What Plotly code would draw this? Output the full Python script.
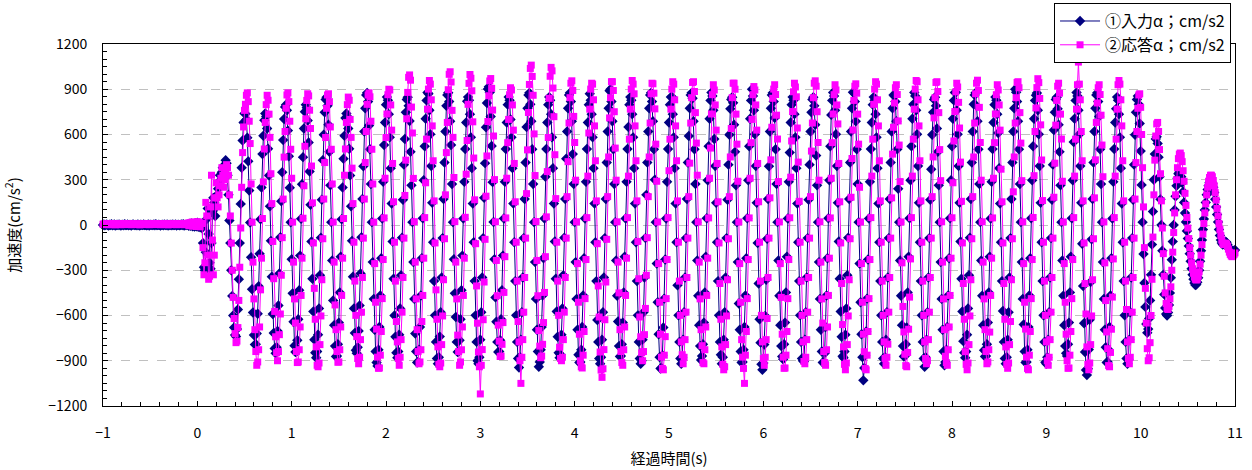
import plotly.graph_objects as go

# ---------------- data (sampled every 0.01 s from -1.00 s to 11.00 s) ----------------
T_START = -1.0
DT = 0.01

# -1.00 .. 0.04 s : before excitation
input_flat = [
    0, 3, -2, 1, 4, -1, -3, 2, 0, 5, -2, 1, 3, -4, 0,
    2, -1, 4, 0, -3, 1, 2, -2, 5, 0, -1, 3, -2, 1, 0,
    -3, 2, 4, -1, 0, 1, -2, 3, 0, -4, 2, 1, -1, 3, 0,
    1, -2, 0, 4, -3, 2, 1, -1, 0, 3, -2, 5, 0, -1, 2,
    0, -3, 1, 2, -2, 4, 0, -1, 3, -4, 1, 0, 2, -2, 3,
    -1, 0, 4, -3, 1, 2, -2, 0, 3, -1, 5, -3, 0, 2, -1,
    4, -6, 8, -5, 10, -8, 6, -10, 12, -9, 15, -12, 10, -15, 8]
response_flat = [
    5, 8, 3, 6, 9, 4, 2, 7, 5, 10, 3, 6, 8, 1, 5,
    7, 4, 9, 5, 2, 6, 7, 3, 10, 5, 4, 8, 3, 6, 5,
    2, 7, 9, 4, 5, 6, 3, 8, 5, 1, 7, 6, 4, 8, 5,
    6, 3, 5, 9, 2, 7, 6, 4, 5, 8, 3, 10, 5, 4, 7,
    5, 2, 6, 7, 3, 9, 5, 4, 8, 1, 6, 5, 7, 3, 8,
    4, 5, 9, 2, 6, 7, 3, 5, 8, 4, 10, 2, 5, 7, 4,
    12, -5, 15, 0, 18, -8, 20, -4, 15, -10, 22, -6, 18, -12, 10]

# 0.05 .. 0.50 s : onset
input_onset = [-20, -120, -280, -300, -180, 40, 110, -60, -250, -290,
               -120, 90, 180, 150, 60, 120, 200, 240, 280, 330,
               300, 350, 380, 360, 400, 430, 410, 330, 200, 30,
               -120, -300, -470, -600, -680, -730, -740, -690, -560, -360,
               -120, 140, 380, 560, 680, 740]
response_onset = [10, -150, -330, -250, 150, 60, -200, -360, -340, 120,
                  330, -100, -330, -200, 180, 280, 180, 120, 200, 260,
                  310, 380, 330, 250, 300, 360, 400, 380, 330, 200,
                  60, -120, -300, -480, -620, -720, -780, -770, -680, -500,
                  -280, -20, 250, 480, 650, 760]

# steady excitation, input (2 cycles per row, from 0.51 s)
input_cycles = [
    [737, 700, 579, 422, 229, 16, -214, -426, -580, -730, -793, -790, -719, -588, -406, -191, 38, 249, 470, 592, 695, 739, 720, 640, 506, 329, 124, -105, -343, -590, -716, -818, -850, -810, -702, -534, -321, -81, 157, 350, 563, 703, 783],
    [797, 760, 626, 456, 247, 18, -227, -453, -641, -800, -842, -839, -764, -625, -432, -203, 41, 270, 450, 640, 751, 798, 778, 692, 547, 355, 134, -109, -356, -573, -760, -847, -880, -839, -727, -553, -333, -84, 167, 430, 598, 747, 832],
    [847, 790, 665, 485, 263, 19, -235, -500, -664, -803, -872, -869, -791, -647, -447, -210, 38, 249, 439, 592, 710, 739, 720, 640, 506, 329, 124, -105, -343, -553, -716, -830, -850, -810, -702, -534, -321, -81, 172, 390, 620, 774, 862],
    [876, 818, 660, 502, 272, 19, -246, -490, -694, -839, -912, -935, -827, -676, -467, -220, 43, 286, 530, 680, 798, 848, 827, 735, 581, 377, 142, -109, -356, -600, -741, -847, -880, -839, -727, -553, -333, -84, 167, 400, 570, 747, 832],
    [847, 790, 690, 485, 263, 19, -246, -490, -720, -839, -912, -908, -827, -676, -467, -220, 45, 297, 522, 704, 826, 878, 870, 761, 602, 391, 147, -114, -372, -599, -775, -885, -920, -877, -740, -578, -348, -87, 172, 414, 620, 790, 862],
    [876, 818, 688, 530, 272, 19, -227, -453, -610, -775, -842, -839, -764, -625, -432, -203, 43, 286, 504, 680, 820, 848, 827, 735, 581, 377, 142, -114, -372, -599, -775, -900, -920, -877, -760, -578, -348, -87, 180, 410, 648, 809, 901],
    [916, 880, 719, 524, 284, 20, -227, -480, -641, -775, -842, -839, -764, -625, -432, -203, 43, 286, 504, 680, 798, 848, 827, 700, 581, 377, 142, -114, -372, -599, -775, -885, -945, -877, -760, -578, -348, -87, 172, 414, 650, 774, 862],
    [876, 800, 688, 502, 272, 19, -246, -490, -694, -839, -940, -908, -827, -676, -467, -220, 43, 320, 504, 680, 798, 848, 827, 735, 581, 377, 142, -109, -356, -573, -741, -847, -880, -860, -727, -553, -333, -84, 172, 440, 620, 774, 862],
    [876, 818, 688, 470, 272, 19, -246, -490, -694, -860, -912, -908, -827, -676, -467, -220, 43, 286, 504, 680, 798, 870, 827, 735, 581, 377, 142, -114, -372, -630, -775, -885, -920, -877, -760, -578, -348, -87, 172, 414, 620, 774, 890],
    [900, 818, 688, 502, 272, 19, -235, -469, -640, -803, -872, -869, -791, -647, -447, -210, 43, 286, 504, 650, 798, 848, 827, 735, 581, 377, 142, -114, -372, -599, -775, -885, -920, -900, -760, -578, -348, -87, 200, 414, 620, 774, 862],
    [876, 818, 688, 502, 300, 19, -256, -512, -724, -876, -951, -948, -863, -680, -488, -229, 43, 286, 504, 680, 798, 848, 850, 735, 581, 377, 142, -114, -400, -599, -775, -885, -920, -877, -760, -578, -348, -87, 172, 414, 590, 774, 862],
    [876, 840, 688, 502, 272, 19, -235, -469, -664, -803, -895, -869, -791, -647, -447, -210, 45, 297, 522, 704, 826, 878, 856, 761, 570, 391, 147, -114, -372, -599, -775, -860, -920, -877, -760, -578, -348, -87, 167, 400, 598, 770, 832],
    [847, 810, 665, 485, 263, 19, -246, -520, -694, -839, -912, -908, -827, -676, -467, -220, 45, 297, 522, 704, 826, 900, 856, 761, 602, 391, 147, -119, -388, -625, -780, -924, -960, -915, -793, -603, -363, -91, 172, 390, 620, 774, 862],
    [876, 818, 710, 502, 272, 19, -235, -469, -664, -803, -872, -890, -791, -647, -447, -210, 43, 286, 480, 680, 798, 848, 827, 735, 581, 377, 142, -114, -372, -599, -775, -885, -900, -905, -760, -578, -348, -87, 167, 400, 620, 747, 832],
    [847, 790, 665, 460, 263, 19, -246, -490, -694, -839, -912, -908, -850, -676, -467, -220, 45, 297, 522, 730, 826, 878, 856, 761, 602, 391, 147, -109, -356, -573, -741, -870, -880, -839, -727, -553, -333, -84, 172, 414, 620, 774, 880],
    [876, 818, 688, 502, 272, 19, -256, -512, -724, -876, -1030, -948, -863, -706, -488, -229, 43, 286, 504, 680, 798, 848, 827, 735, 581, 377, 142, -114, -372, -599, -775, -885, -920, -877, -760, -578, -348, -87, 172, 414, 620, 774, 862],
    [855, 818, 688, 502, 240, 19, -235, -469, -664, -803, -872, -869, -791, -680, -447, -210, 45, 297, 522, 704, 800, 878, 856, 761, 602, 391, 147, -114, -372, -599, -775, -885, -940, -877, -760, -578, -348, -87, 167, 370, 598, 747, 832],
    [847, 790, 640, 485, 263, 19, -246, -490, -694, -839, -930, -908, -827, -676, -467, -220, 45, 297, 522, 704, 826, 878, 880, 761, 602, 391, 147, -109, -356, -573, -770, -847, -880, -839, -727, -553, -333, -84, 172, 414, 620, 800, 862],
    [876, 790, 688, 502, 272, 19, -235, -469, -664, -830, -872, -869, -791, -647, -447, -210, 43, 286, 504, 680, 798, 848, 827, 735, 610, 377, 142, -114, -372, -570, -775, -885, -920, -877, -760, -578, -348, -87, 172, 414, 620, 774, 900],
    [880, 818, 688, 502, 272, 19, -246, -490, -660, -839, -912, -908, -827, -676, -467, -220, 45, 297, 522, 704, 826, 860, 875, 761, 602, 391, 147, -114, -372, -599, -775, -910, -920, -877, -760, -578, -348, -87, 167, 400, 630, 747, 832],
    [847, 770, 665, 485, 263, 19, -235, -469, -664, -803, -850, -869, -791, -647, -447, -210, 45, 297, 550, 704, 826, 878, 856, 761, 602, 391, 147, -124, -404, -651, -842, -962, -995, -953, -826, -628, -378, -95, 172, 414, 620, 774, 862],
    [876, 818, 720, 502, 272, 19, -246, -490, -694, -810, -912, -908, -827, -676, -467, -220, 43, 286, 504, 680, 770, 848, 827, 735, 581, 377, 142, -114, -372, -599, -775, -885, -920, -890, -760, -578, -348, -87, 167, 400, 598, 747, 832],
]
input_cycle_end = [856, 800, 673, 490, 266, 19, -192, -384, -543, -657, -714]

# steady excitation, response (lags input by ~0.02 s)
response_cycle_start = [800, 860]
response_cycles = [
    [876, 818, 688, 540, 272, 19, -246, -490, -694, -839, -930, -908, -827, -676, -430, -220, 43, 286, 504, 680, 798, 860, 827, 735, 581, 340, 142, -109, -356, -573, -741, -847, -900, -839, -727, -590, -333, -84, 172, 450, 620, 774, 862],
    [876, 818, 688, 502, 310, 19, -246, -490, -650, -839, -912, -908, -827, -676, -467, -220, 45, 260, 522, 704, 826, 870, 856, 761, 640, 391, 147, -119, -420, -625, -808, -930, -940, -915, -793, -603, -363, -91, 172, 414, 580, 774, 862],
    [870, 818, 650, 502, 272, 19, -246, -530, -694, -839, -910, -908, -827, -676, -467, -220, 43, 330, 504, 680, 798, 848, 827, 700, 581, 377, 142, -114, -372, -599, -740, -885, -920, -877, -760, -578, -348, -87, 172, 414, 620, 800, 862],
    [876, 850, 688, 502, 272, 19, -256, -512, -690, -876, -950, -948, -863, -706, -488, -229, 47, 310, 580, 736, 864, 900, 895, 796, 629, 408, 154, -114, -372, -640, -775, -885, -930, -877, -760, -578, -348, -87, 196, 430, 704, 879, 979],
    [995, 960, 782, 610, 309, 22, -246, -490, -694, -839, -920, -908, -827, -640, -467, -220, 49, 280, 569, 768, 901, 958, 934, 830, 657, 426, 160, -119, -430, -625, -808, -924, -940, -915, -793, -603, -363, -91, 200, 480, 680, 897, 999],
    [1016, 948, 760, 581, 315, 22, -246, -490, -730, -839, -930, -908, -827, -676, -467, -220, 51, 337, 560, 800, 939, 998, 973, 890, 684, 444, 167, -124, -404, -651, -842, -940, -1120, -930, -826, -628, -378, -95, 191, 458, 686, 857, 955],
    [971, 906, 762, 590, 301, 21, -235, -469, -664, -770, -872, -869, -791, -647, -447, -210, 47, 310, 546, 700, 864, 910, 895, 796, 629, 408, 154, -114, -372, -640, -775, -900, -1050, -877, -760, -578, -348, -87, 208, 498, 746, 932, 1038],
    [1060, 985, 860, 604, 328, 23, -235, -469, -700, -803, -880, -869, -791, -647, -447, -210, 54, 354, 580, 840, 986, 1045, 1022, 908, 718, 466, 175, -114, -372, -599, -810, -885, -900, -877, -760, -578, -348, -87, 188, 420, 676, 844, 940],
    [956, 892, 720, 547, 297, 21, -256, -512, -724, -900, -940, -948, -863, -706, -488, -229, 49, 324, 610, 768, 901, 940, 934, 830, 657, 426, 160, -124, -404, -610, -842, -962, -1010, -953, -826, -628, -378, -95, 188, 451, 710, 844, 950],
    [950, 892, 751, 510, 297, 21, -246, -450, -694, -839, -912, -930, -827, -676, -467, -220, 49, 324, 569, 768, 901, 958, 934, 870, 657, 426, 160, -109, -356, -610, -741, -847, -900, -839, -727, -553, -333, -84, 188, 451, 676, 870, 940],
    [936, 874, 770, 536, 290, 20, -256, -512, -724, -876, -951, -960, -863, -740, -488, -229, 49, 360, 569, 768, 901, 950, 934, 830, 657, 426, 160, -114, -372, -599, -775, -860, -920, -877, -760, -578, -348, -87, 188, 410, 676, 844, 945],
    [950, 885, 745, 543, 330, 21, -246, -490, -694, -800, -912, -920, -827, -676, -467, -220, 47, 310, 510, 736, 864, 930, 895, 796, 629, 408, 154, -119, -388, -625, -808, -924, -960, -940, -793, -603, -363, -91, 188, 451, 640, 844, 940],
    [940, 900, 735, 536, 290, 20, -256, -512, -760, -876, -951, -1050, -863, -706, -488, -229, 47, 310, 546, 700, 864, 918, 895, 796, 629, 408, 154, -114, -372, -599, -775, -885, -930, -877, -760, -620, -348, -87, 180, 432, 648, 840, 901],
    [930, 865, 728, 570, 288, 20, -256, -480, -724, -876, -950, -948, -863, -706, -488, -229, 48, 317, 557, 752, 883, 940, 915, 850, 643, 417, 157, -114, -372, -599, -775, -905, -920, -877, -760, -578, -348, -87, 188, 490, 676, 844, 940],
    [956, 920, 751, 547, 297, 21, -246, -490, -650, -839, -912, -930, -827, -676, -467, -220, 47, 310, 546, 736, 864, 930, 895, 796, 670, 408, 154, -119, -388, -660, -808, -924, -960, -915, -793, -603, -363, -91, 184, 441, 630, 826, 920],
    [936, 874, 735, 536, 250, 20, -256, -512, -724, -840, -951, -960, -863, -706, -488, -229, 49, 324, 569, 800, 901, 950, 934, 830, 657, 426, 160, -114, -372, -599, -775, -885, -930, -877, -790, -578, -348, -87, 180, 470, 648, 809, 910],
    [930, 865, 690, 530, 288, 20, -251, -540, -709, -857, -932, -940, -845, -691, -478, -225, 49, 324, 569, 768, 901, 958, 950, 830, 657, 426, 160, -114, -372, -599, -775, -885, -920, -900, -760, -578, -348, -87, 188, 451, 710, 844, 945],
    [950, 885, 745, 500, 294, 21, -246, -490, -694, -870, -912, -930, -827, -676, -467, -220, 48, 280, 557, 752, 883, 940, 915, 813, 643, 417, 157, -119, -388, -625, -840, -924, -960, -915, -793, -603, -363, -91, 188, 451, 676, 870, 940],
    [960, 892, 780, 547, 297, 21, -246, -490, -694, -839, -920, -908, -827, -710, -467, -220, 47, 310, 546, 736, 864, 930, 895, 796, 629, 370, 154, -119, -388, -625, -808, -924, -950, -915, -793, -640, -363, -91, 220, 451, 676, 844, 945],
    [950, 910, 745, 543, 294, 21, -256, -512, -690, -876, -951, -960, -863, -706, -488, -229, 50, 327, 620, 776, 911, 970, 944, 839, 664, 431, 162, -114, -372, -599, -775, -900, -930, -877, -760, -578, -348, -87, 184, 410, 662, 826, 920],
    [940, 874, 735, 570, 290, 20, -256, -512, -724, -900, -950, -948, -863, -706, -488, -229, 49, 324, 569, 768, 930, 1080, 934, 830, 620, 426, 160, -119, -388, -590, -808, -924, -960, -915, -793, -603, -363, -91, 180, 432, 680, 809, 910],
    [930, 865, 728, 530, 320, 20, -251, -501, -709, -820, -932, -940, -845, -691, -478, -225, 49, 324, 569, 768, 930, 958, 934, 830, 657, 426, 160, -114, -372, -560, -775, -885, -920, -877, -760, -578, -348, -87, 172, 414, 620, 774, 862],
]
response_cycle_end = [870, 780, 600, 380, 120, -150, -420, -650, -820]

# 10.08 .. 11.00 s : free vibration after excitation
input_tail = [-690, -620, -500, -330, -130, 90, 300, 470, 570, 585,
              540, 450, 320, 170, 0, -170, -330, -460, -550, -590,
              -600, -580, -530, -450, -350, -230, -110, 0, 100, 190,
              260, 310, 340, 350, 345, 320, 280, 220, 150, 80,
              20, -40, -90, -140, -190, -240, -290, -330, -360, -385,
              -398, -395, -380, -350, -300, -240, -170, -100, -30, 40,
              100, 150, 200, 235, 260, 280, 290, 288, 275, 250,
              215, 170, 120, 70, 20, -30, -70, -100, -120, -130,
              -125, -115, -110, -115, -130, -145, -160, -170, -175, -178,
              -175, -170, -165]
response_tail = [-900, -880, -780, -600, -360, -80, 200, 430, 590, 670,
                 680, 620, 500, 340, 160, -20, -190, -340, -450, -520,
                 -555, -560, -540, -490, -410, -300, -180, -50, 80, 200,
                 300, 380, 440, 470, 477, 460, 420, 360, 290, 210,
                 130, 50, -20, -90, -150, -200, -250, -290, -320, -345,
                 -360, -365, -360, -340, -310, -260, -200, -130, -60, 10,
                 80, 140, 200, 250, 290, 315, 330, 330, 320, 295,
                 260, 215, 165, 110, 60, 10, -30, -70, -100, -120,
                 -130, -125, -120, -125, -140, -160, -180, -195, -205, -210,
                 -205, -195, -185]

series_names = ["①入力α；cm/s2", "②応答α；cm/s2"]
y_ticks = [-1200, -900, -600, -300, 0, 300, 600, 900, 1200]
x_ticks = list(range(-1, 12))

# ---------------- assemble ----------------
for i, row in enumerate(input_cycles):
    if len(row) != 43:
        raise ValueError(f"input row {i} has {len(row)}")
for i, row in enumerate(response_cycles):
    if len(row) != 43:
        raise ValueError(f"response row {i} has {len(row)}")

input_values = (input_flat + input_onset + [v for r in input_cycles for v in r]
                + input_cycle_end + input_tail)
response_values = (response_flat + response_onset + response_cycle_start
                   + [v for r in response_cycles for v in r]
                   + response_cycle_end + response_tail)
if len(input_values) != 1201 or len(response_values) != 1201:
    raise ValueError(f"lengths {len(input_values)} {len(response_values)}")

FONT = "Noto Sans CJK JP, Noto Sans, sans-serif"

fig = go.Figure()
fig.add_trace(go.Scatter(
    x0=T_START, dx=DT, y=input_values, mode="lines+markers", name=series_names[0],
    line=dict(color="#000080", width=1),
    marker=dict(symbol="diamond", size=8, color="#000080"),
    cliponaxis=False,
))
fig.add_trace(go.Scatter(
    x0=T_START, dx=DT, y=response_values, mode="lines+markers", name=series_names[1],
    line=dict(color="#FF00FF", width=1),
    marker=dict(symbol="square", size=7, color="#FF00FF"),
    cliponaxis=False,
))

fig.update_layout(
    width=1252, height=470,
    margin=dict(l=103, r=17, t=44, b=64, autoexpand=False),
    paper_bgcolor="white", plot_bgcolor="white",
    font=dict(family=FONT, size=13, color="black"),
    showlegend=True,
    legend=dict(x=0.9965, y=1.113, xanchor="right", yanchor="top",
                bordercolor="black", borderwidth=1, bgcolor="white",
                font=dict(family=FONT, size=16, color="black"),
                tracegroupgap=0, itemwidth=40),
)
fig.update_xaxes(
    range=[-1, 11], tickvals=x_ticks, ticks="inside", ticklen=5, tickcolor="black",
    showline=True, linecolor="black", linewidth=1, mirror=True,
    showgrid=False, zeroline=False,
    minor=dict(dtick=0.2, tick0=0, ticks="inside", ticklen=4, tickcolor="black", showgrid=False),
    tickfont=dict(family=FONT, size=14), ticklabelstandoff=14,
    title=dict(text="経過時間(s)", font=dict(family=FONT, size=15), standoff=12),
)
fig.update_yaxes(
    range=[-1200, 1200], tickvals=y_ticks, ticks="inside", ticklen=5, tickcolor="black",
    showline=True, linecolor="black", linewidth=1, mirror=True,
    showgrid=True, gridcolor="#c0c0c0", griddash="dash", gridwidth=1, zeroline=False,
    minor=dict(dtick=50, tick0=0, ticks="inside", ticklen=4, tickcolor="black", showgrid=False),
    tickfont=dict(family=FONT, size=14), ticklabelstandoff=12,
    title=dict(text="加速度(cm/s<sup>2</sup>)", font=dict(family=FONT, size=15), standoff=24),
)

fig.write_html("out.html", config={"displayModeBar": False},
               post_script="document.body.style.margin='0';document.body.style.overflow='hidden';")
